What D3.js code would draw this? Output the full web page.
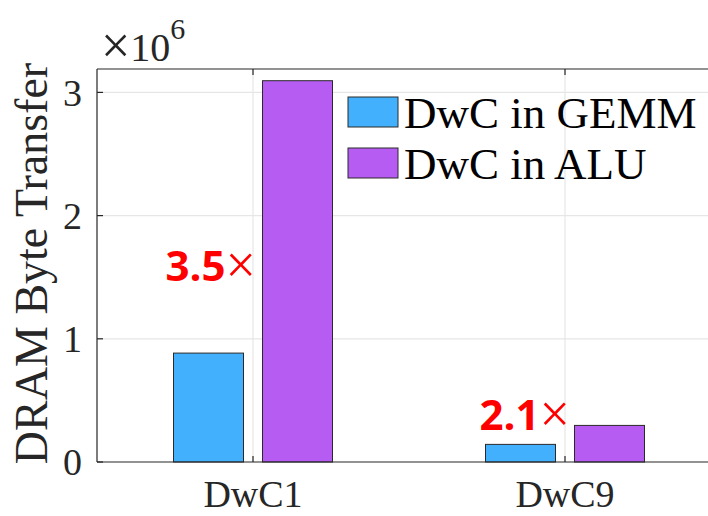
<!DOCTYPE html>
<html><head><meta charset="utf-8">
<script src="https://cdn.jsdelivr.net/npm/d3@7"></script>
<style>body{margin:0;background:#fff}svg{display:block}</style>
</head><body><svg id="c" width="708" height="516"></svg>
<script>
const categories = ["DwC1", "DwC9"];
const seriesNames = ["DwC in GEMM", "DwC in ALU"];
const gemmValues = [0.884e6, 0.143e6];
const aluValues = [3.095e6, 0.297e6];
const yTicks = [0, 1e6, 2e6, 3e6];
const ratioLabels = ["3.5", "2.1"];
const colors = ["#42b0fc", "#b75cf2"];

const svg = d3.select("#c");
const L = 97, T = 69, B = 462;
const x = d3.scaleLinear().domain([0.5, 2.5]).range([L, 721]);
const y = d3.scaleLinear().domain([0, 3.19e6]).range([B, T]);
const serif = "'Liberation Serif','Times New Roman',serif";

// grid
svg.append("g").selectAll("line").data(yTicks.slice(1)).join("line")
  .attr("x1", L).attr("x2", 708).attr("y1", d => y(d)).attr("y2", d => y(d))
  .attr("stroke", "#e6e6e6").attr("stroke-width", 1.2);
svg.append("g").selectAll("line").data(categories).join("line")
  .attr("x1", (d,i) => x(i+1)).attr("x2", (d,i) => x(i+1)).attr("y1", T).attr("y2", B)
  .attr("stroke", "#e6e6e6").attr("stroke-width", 1.2);

// bars
const bw = 70, off = 44.5;
const data = categories.map((c,i) => ({i, vals:[gemmValues[i], aluValues[i]]}));
const g = svg.append("g");
data.forEach(d => {
  d.vals.forEach((v,j) => {
    g.append("rect")
      .attr("x", x(d.i+1) + (j===0 ? -off : off) - bw/2)
      .attr("y", y(v)).attr("width", bw).attr("height", B - y(v))
      .attr("fill", colors[j]).attr("stroke", "#2a2a2a").attr("stroke-width", 1);
  });
});

// axes frame
const ax = svg.append("g").attr("stroke", "#262626").attr("stroke-width", 1.2).attr("fill", "none");
ax.append("line").attr("x1", L).attr("x2", 708).attr("y1", T).attr("y2", T);
ax.append("line").attr("x1", L).attr("x2", 708).attr("y1", B).attr("y2", B);
ax.append("line").attr("x1", L).attr("x2", L).attr("y1", T).attr("y2", B);
yTicks.forEach(t => ax.append("line").attr("x1", L).attr("x2", L+6).attr("y1", y(t)).attr("y2", y(t)));
categories.forEach((c,i) => {
  ax.append("line").attr("x1", x(i+1)).attr("x2", x(i+1)).attr("y1", B).attr("y2", B-6);
  ax.append("line").attr("x1", x(i+1)).attr("x2", x(i+1)).attr("y1", T).attr("y2", T+6);
});

// tick labels
svg.append("g").selectAll("text").data(yTicks).join("text")
  .attr("x", L-15).attr("y", d => y(d)).attr("dy", "0.35em")
  .attr("text-anchor", "end").attr("font-family", serif).attr("font-size", 38).attr("fill", "#262626")
  .text(d => d3.format("d")(d/1e6));
svg.append("g").selectAll("text").data(categories).join("text")
  .attr("x", (d,i) => x(i+1)).attr("y", 507)
  .attr("text-anchor", "middle").attr("font-family", serif).attr("font-size", 38).attr("fill", "#262626")
  .text(d => d);

// exponent
const ex = svg.append("text").attr("x", 101).attr("y", 61).attr("font-family", serif).attr("fill", "#262626");
ex.append("tspan").attr("font-size", 52).attr("dy", 2).text("×");
ex.append("tspan").attr("font-size", 40).attr("dy", -2).text("10");
ex.append("tspan").attr("dy", -22).attr("font-size", 30).text("6");

// y label
svg.append("text").attr("transform", `translate(47,${(T+B)/2 - 2}) rotate(-90)`)
  .attr("text-anchor", "middle").attr("font-family", serif).attr("font-size", 46).attr("fill", "#262626")
  .text("DRAM Byte Transfer");

// legend
seriesNames.forEach((n,j) => {
  const ly = 112 + j*51;
  svg.append("rect").attr("x", 348).attr("y", ly-15).attr("width", 50).attr("height", 30)
    .attr("fill", colors[j]).attr("stroke", "#2a2a2a").attr("stroke-width", 1);
  svg.append("text").attr("x", 404).attr("y", ly).attr("dy", "0.35em")
    .attr("font-family", serif).attr("font-size", 45).attr("fill", "#000").text(n);
});

// ratio annotations
const ann = [{ty: 281, tx: 256}, {ty: 430, tx: 570}];
ann.forEach((a,k) => {
  const t = svg.append("text").attr("x", a.tx).attr("y", a.ty).attr("text-anchor", "end")
    .attr("fill", "#ff0000");
  t.append("tspan").attr("font-family", "'Open Sans','DejaVu Sans',sans-serif").attr("font-weight", "bold").attr("font-size", 42).text(ratioLabels[k]);
  t.append("tspan").attr("font-family", serif).attr("font-size", 54).attr("dy", 2).text("×");
});
</script></body></html>
